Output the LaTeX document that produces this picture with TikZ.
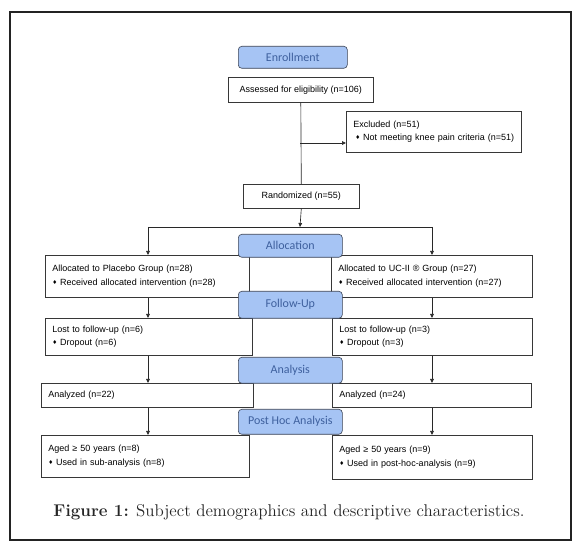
\documentclass[tikz,border=0pt]{standalone}
\usepackage{fontspec}
\newfontfamily\boxfam{Liberation Sans}
\newfontfamily\labelfont{Carlito}
\newfontfamily\symfont{DejaVu Sans}
\usetikzlibrary{arrows.meta}
\definecolor{stagefill}{RGB}{166,196,244}
\definecolor{stagetext}{RGB}{62,96,158}
\definecolor{stagedraw}{RGB}{58,66,84}
\definecolor{boxdraw}{RGB}{55,55,55}
\definecolor{linecol}{RGB}{40,40,40}
\definecolor{framecol}{RGB}{35,35,35}
\newcommand\bul{{\symfont\fontsize{5.5}{6}\selectfont\raisebox{0.8pt}{\symbol{"2666}}}\hspace{3pt}}
\begin{document}
\begin{tikzpicture}[x=1pt,y=-1pt,
  boxfont/.style={font=\boxfam\fontsize{9}{13.3}\selectfont},
  lbox/.style={draw=boxdraw,line width=0.6pt,fill=white,anchor=north west,inner xsep=7pt,inner ysep=0pt,align=left,boxfont},
  cbox/.style={draw=boxdraw,line width=0.6pt,fill=white,anchor=north west,inner sep=0pt,align=center,boxfont},
  stage/.style={draw=stagedraw,line width=0.6pt,fill=stagefill,rounded corners=3.5pt,anchor=north west,inner sep=0pt,font=\labelfont\fontsize{12}{14}\selectfont,text=stagetext},
  conn/.style={draw=linecol,line width=0.65pt},
  arr/.style={conn,-{Triangle[length=4pt,width=3.6pt]}}
]
\useasboundingbox (0,0) rectangle (579,553);
\draw[line width=1.1pt,draw=framecol] (10,12) rectangle (571,540);

% column coordinates
\coordinate (exj) at (300,143);
\coordinate (split) at (300,227);
\coordinate (splitl) at (148,227);
\coordinate (splitr) at (432,227);

% boxes
\node[cbox,minimum width=145pt,minimum height=25pt] (ass) at (228,77) {Assessed for eligibility (n=106)};
\node[lbox,text width=161pt,minimum height=41pt] (exc) at (346,111) {Excluded (n=51)\\\hspace{2pt}\bul Not meeting knee pain criteria (n=51)};
\node[cbox,minimum width=116pt,minimum height=24pt] (ran) at (243,184) {Randomized (n=55)};

\node[lbox,text width=190pt,minimum height=42pt] (plac) at (45,255) {Allocated to Placebo Group (n=28)\\\bul Received allocated intervention (n=28)};
\node[lbox,text width=187pt,minimum height=42pt] (ucii) at (331,255) {Allocated to UC-II \textregistered\ Group (n=27)\\\bul Received allocated intervention (n=27)};

\node[lbox,text width=193pt,minimum height=37pt] (lostl) at (45,318) {Lost to follow-up (n=6)\\\bul Dropout (n=6)};
\node[lbox,text width=186pt,minimum height=37pt] (lostr) at (332,318) {Lost to follow-up (n=3)\\\bul Dropout (n=3)};

\node[lbox,text width=198pt,minimum height=24pt] (anl) at (41,383) {Analyzed (n=22)};
\node[lbox,text width=185pt,minimum height=24pt] (anr) at (332,383) {Analyzed (n=24)};

\node[lbox,text width=194pt,minimum height=42pt] (agel) at (41,435) {Aged \symbol{"2265} 50 years (n=8)\\\bul Used in sub-analysis (n=8)};
\node[lbox,text width=186pt,minimum height=44pt] (ager) at (332,435) {Aged \symbol{"2265} 50 years (n=9)\\\bul Used in post-hoc-analysis (n=9)};

% connectors
\draw[conn] (ass.south) -- (ran.north);
\draw[arr] (exj) -- (exj -| exc.west);
\draw[arr] (ran.south) -- (split);
\draw[conn] (splitl) -- (splitr);
\draw[arr] (splitl) -- (plac.north -| splitl);
\draw[arr] (splitr) -- (ucii.north -| splitr);
\draw[arr] (plac.south -| splitl) -- (lostl.north -| splitl);
\draw[arr] (ucii.south -| splitr) -- (lostr.north -| splitr);
\draw[arr] (lostl.south -| splitl) -- (anl.north -| splitl);
\draw[arr] (lostr.south -| splitr) -- (anr.north -| splitr);
\draw[arr] (anl.south -| splitl) -- (agel.north -| splitl);
\draw[arr] (anr.south -| splitr) -- (ager.north -| splitr);

% stage labels
\node[stage,minimum width=109pt,minimum height=22pt] (enr) at (238,46) {Enrollment};
\node[stage,minimum width=104pt,minimum height=23pt] (alo) at (238,234) {Allocation};
\node[stage,minimum width=104pt,minimum height=27pt] (fol) at (238,291) {Follow-Up};
\node[stage,minimum width=104pt,minimum height=26pt] (ana) at (238,357) {Analysis};
\node[stage,minimum width=104pt,minimum height=25pt] (post) at (238,409) {Post Hoc Analysis};

% caption
\node[inner sep=0pt,text=black!85] (cap) at (289,512) {\resizebox{471pt}{!}{\fontsize{14}{16}\selectfont\textbf{Figure 1:} Subject demographics and descriptive characteristics.}};
\end{tikzpicture}
\end{document}
